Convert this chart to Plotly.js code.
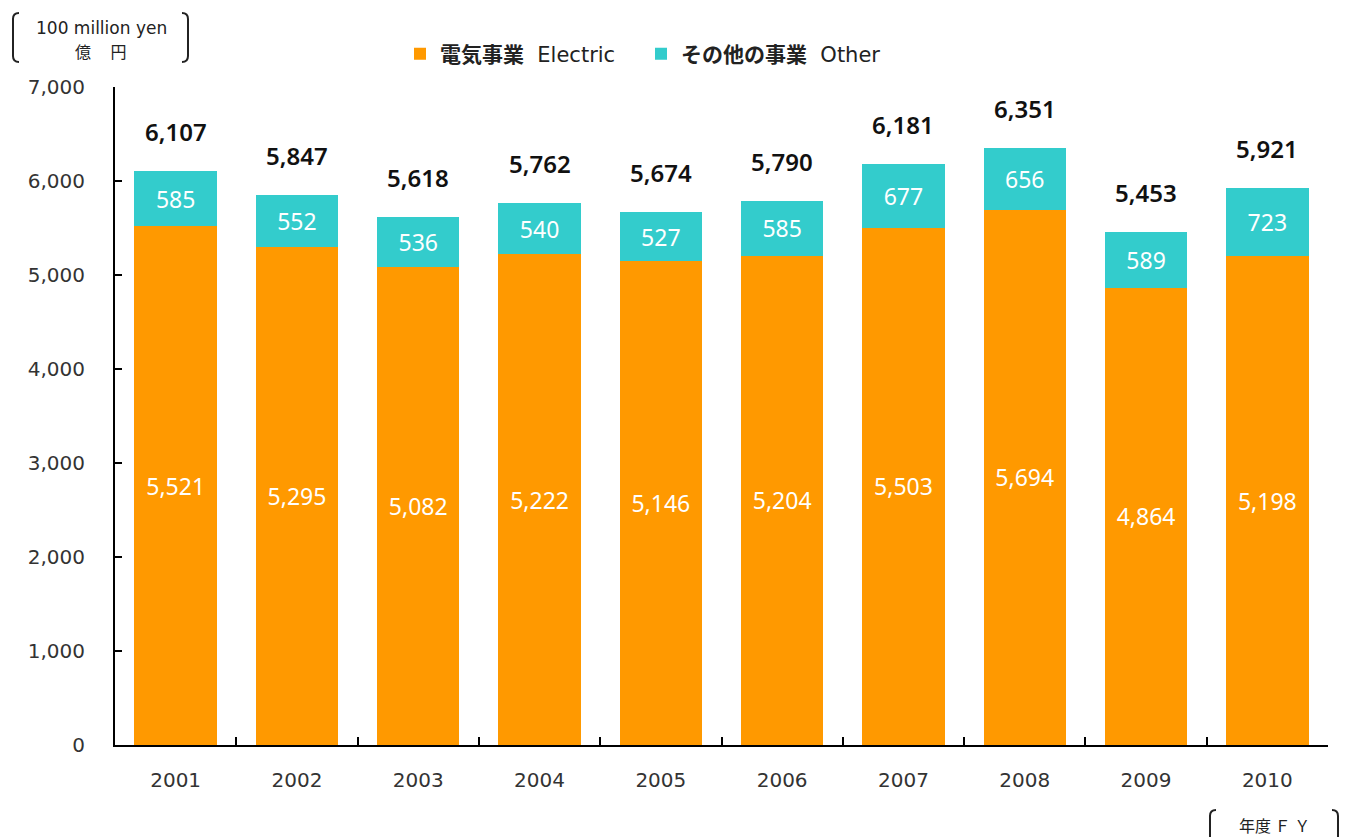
<!DOCTYPE html>
<html>
<head>
<meta charset="utf-8">
<script src="https://cdn.plot.ly/plotly-3.0.1.min.js"></script>
<style>html,body{margin:0;padding:0;background:#fff}#chart{width:1345px;height:837px}</style>
</head>
<body>
<div id="chart"></div>
<script>
const years = ["2001","2002","2003","2004","2005","2006","2007","2008","2009","2010"];
const electric = [5521,5295,5082,5222,5146,5204,5503,5694,4864,5198];
const other = [585,552,536,540,527,585,677,656,589,723];
const totals = [6107,5847,5618,5762,5674,5790,6181,6351,5453,5921];
const yTickVals = [0,1000,2000,3000,4000,5000,6000,7000];
const seriesNames = ['<b>電気事業</b>  Electric', '<b>その他の事業</b>  Other'];

const W = 1345, H = 837, ML = 115, MR = 17, MT = 87, MB = 92;
const PW = W - ML - MR, PH = H - MT - MB;
const px = x => (x - ML) / PW;
const py = y => (H - MB - y) / PH;
function path(pts){
  return pts.map(p => {
    const c = p[0]; const rest = [];
    for (let i = 1; i < p.length; i += 2) rest.push(px(p[i]).toFixed(5) + ',' + py(p[i+1]).toFixed(5));
    return c + ' ' + rest.join(' ');
  }).join(' ');
}
function leftBracket(x, y0, y1){
  return path([['M', x+6, y0], ['Q', x, y0, x, y0+6], ['L', x, y1-6], ['Q', x, y1, x+6, y1]]);
}
function rightBracket(x, y0, y1){
  return path([['M', x-6, y0], ['Q', x, y0, x, y0+6], ['L', x, y1-6], ['Q', x, y1, x-6, y1]]);
}
const fmt = v => v.toLocaleString('en-US');
const numFamily = '"Noto Sans", Roboto, sans-serif';
const latFamily = '"DejaVu Sans", "Noto Sans CJK JP", sans-serif';

const traces = [
  {type:'bar', name: seriesNames[0], x: years, y: electric,
   marker:{color:'#FF9900'}, text: electric.map(fmt),
   textposition:'inside', insidetextanchor:'middle', textangle:0, constraintext:'none',
   textfont: {family: numFamily, size: 23, color:'#ffffff'}, hoverinfo:'skip'},
  {type:'bar', name: seriesNames[1], x: years, y: other,
   marker:{color:'#33CCCC'}, text: other.map(fmt),
   textposition:'inside', insidetextanchor:'middle', textangle:0, constraintext:'none',
   textfont: {family: numFamily, size: 23, color:'#ffffff'}, hoverinfo:'skip'}
];

const annotations = years.map((yr,i)=>({
  x: i, y: totals[i], xref:'x', yref:'y', text: fmt(totals[i]),
  showarrow:false, yanchor:'bottom', yshift: 21,
  font:{family: numFamily, size:24, color:'#111', weight:600}
}));
annotations.push({
  xref:'paper', yref:'paper', x: px(101), y: py(28), xanchor:'center', yanchor:'middle',
  text:'100 million yen', showarrow:false,
  font:{family: latFamily, size:17, color:'#222'}
});
annotations.push({
  xref:'paper', yref:'paper', x: px(101), y: py(51), xanchor:'center', yanchor:'middle',
  text:'億　 円', showarrow:false,
  font:{family:'"Noto Sans CJK JP", sans-serif', size:16, color:'#222'}
});
annotations.push({
  xref:'paper', yref:'paper', x: px(1274), y: py(825), xanchor:'center', yanchor:'middle',
  text:'年度 Ｆ Ｙ', showarrow:false,
  font:{family:'"Noto Sans CJK JP", sans-serif', size:16, color:'#222'}
});

const shapes = [
  {type:'path', xref:'paper', yref:'paper', path: leftBracket(13, 13, 62), line:{color:'#222', width:2}},
  {type:'path', xref:'paper', yref:'paper', path: rightBracket(188, 13, 62), line:{color:'#222', width:2}},
  {type:'path', xref:'paper', yref:'paper', path: leftBracket(1210, 810, 845), line:{color:'#222', width:2}},
  {type:'path', xref:'paper', yref:'paper', path: rightBracket(1338, 810, 845), line:{color:'#222', width:2}}
];

const layout = {
  width: W, height: H,
  margin: {l: ML, r: MR, t: MT, b: MB, pad: 0},
  paper_bgcolor:'#ffffff', plot_bgcolor:'#ffffff',
  barmode:'stack', bargap: 0.32,
  showlegend: true,
  legend: {orientation:'h', x: px(400), y: py(54), xanchor:'left', yanchor:'middle',
    font:{family: latFamily, size:21, color:'#222'},
    entrywidth: 196, entrywidthmode:'pixels',
    traceorder:'normal', tracegroupgap: 0},
  xaxis: {type:'category', range:[-0.5, 9.5], showline:true, linecolor:'#000', linewidth:2,
    ticks:'inside', tickson:'boundaries', ticklen:8, tickwidth:2, tickcolor:'#000',
    showgrid:false, zeroline:false, ticklabelstandoff: 16, tickangle:0,
    tickfont:{family: latFamily, size:20, color:'#333'}},
  yaxis: {range:[0,7000], tickvals: yTickVals, ticktext: yTickVals.map(fmt),
    showline:true, linecolor:'#000', linewidth:2,
    ticks:'inside', ticklen:7, tickwidth:2, tickcolor:'#000',
    showgrid:false, zeroline:false, ticklabelstandoff: 24,
    tickfont:{family: latFamily, size:20, color:'#333'}},
  annotations: annotations,
  shapes: shapes,
  font:{family: latFamily}
};

Plotly.newPlot('chart', traces, layout, {displayModeBar:false, staticPlot:true});
</script>
</body>
</html>
